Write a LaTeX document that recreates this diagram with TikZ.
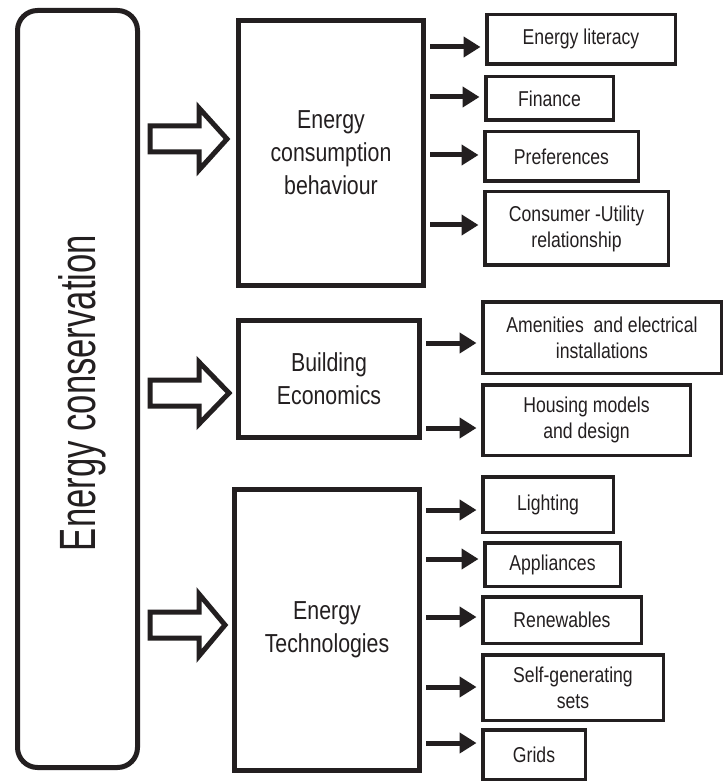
\documentclass[tikz,border=0pt]{standalone}
\usepackage{fontspec}
\setmainfont{Liberation Sans}[FakeStretch=0.82]
\newfontfamily\bigfont{Liberation Sans}[FakeStretch=0.68]
\usetikzlibrary{arrows.meta}
\definecolor{ink}{RGB}{35,31,32}
\tikzset{
  bigbox/.style={draw=ink, line width=5pt, rounded corners=20pt, inner sep=0pt},
  midbox/.style={draw=ink, line width=5pt, inner sep=0pt, align=center, text=ink,
    font=\fontsize{26}{33}\selectfont},
  subbox/.style={draw=ink, line width=3.5pt, inner sep=0pt, align=center, text=ink,
    font=\fontsize{21.5}{26}\selectfont},
  arr/.style={draw=ink, line width=5pt, -{Triangle[length=17pt,width=20pt]},
    shorten <=4pt, shorten >=4.5pt},
  hollow/.style={draw=ink, line width=5pt, miter limit=10, line join=miter, fill=white}
}
\begin{document}
\begin{tikzpicture}[x=1pt,y=-1pt]
\useasboundingbox[fill=white] (0,0) rectangle (725,783);

% big left box
\node[bigbox, minimum width=120pt, minimum height=757pt] (ec) at (77.5,389) {};
\node[rotate=90, anchor=base, text=ink, font=\bigfont\fontsize{51}{60}\selectfont] (ect) at (95,393) {Energy conservation};

% middle boxes
\node[midbox, minimum width=185pt, minimum height=265pt] (m1) at (331,153) {Energy\\consumption\\behaviour};
\node[midbox, minimum width=181pt, minimum height=117pt] (m2) at (329,379) {Building\\Economics};
\node[midbox, minimum width=185pt, minimum height=281pt] (m3) at (327,630) {Energy\\Technologies};

% hollow arrows
\foreach \c/\t in {139/227, 393/229, 625/225}{
  \draw[hollow] (150,\c-13) -- (199,\c-13) -- (199,\c-31) -- (\t,\c) -- (199,\c+31) -- (199,\c+13) -- (150,\c+13) -- cycle;
}

% right boxes
\node[subbox, minimum width=188.5pt, minimum height=49.5pt, text depth=6pt] (r1) at (581,39.5) {Energy literacy};
\node[subbox, minimum width=127.5pt, minimum height=43.5pt] (r2) at (549.5,98.5) {Finance};
\node[subbox, minimum width=153.5pt, minimum height=49.5pt] (r3) at (561.5,156.5) {Preferences};
\node[subbox, minimum width=183.5pt, minimum height=73.5pt] (r4) at (576.5,228.5) {Consumer -Utility\\relationship};
\node[subbox, minimum width=238.5pt, minimum height=71.5pt] (r5) at (602,337.5) {Amenities\ \ and electrical\\installations};
\node[subbox, minimum width=207.5pt, minimum height=70.5pt] (r6) at (586.5,420) {Housing models\\and design};
\node[subbox, minimum width=130.5pt, minimum height=55.5pt] (r7) at (548,504.5) {Lighting};
\node[subbox, minimum width=135.5pt, minimum height=43.5pt] (r8) at (552.5,564.5) {Appliances};
\node[subbox, minimum width=158.5pt, minimum height=46.5pt] (r9) at (562,620) {Renewables};
\node[subbox, minimum width=180.5pt, minimum height=65.5pt] (r10) at (573,687.5) {Self-generating\\sets};
\node[subbox, minimum width=102.5pt, minimum height=49.5pt] (r11) at (534,754.5) {Grids};

% small arrows
\draw[arr] (m1.east |- 0,47) -- (r1.west |- 0,47);
\draw[arr] (m1.east |- 0,97) -- (r2.west |- 0,97);
\draw[arr] (m1.east |- 0,155) -- (r3.west |- 0,155);
\draw[arr] (m1.east |- 0,225) -- (r4.west |- 0,225);
\draw[arr] (m2.east |- 0,343) -- (r5.west |- 0,343);
\draw[arr] (m2.east |- 0,428) -- (r6.west |- 0,428);
\draw[arr] (m3.east |- 0,510) -- (r7.west |- 0,510);
\draw[arr] (m3.east |- 0,559) -- (r8.west |- 0,559);
\draw[arr] (m3.east |- 0,617) -- (r9.west |- 0,617);
\draw[arr] (m3.east |- 0,687) -- (r10.west |- 0,687);
\draw[arr] (m3.east |- 0,743) -- (r11.west |- 0,743);
\end{tikzpicture}
\end{document}
